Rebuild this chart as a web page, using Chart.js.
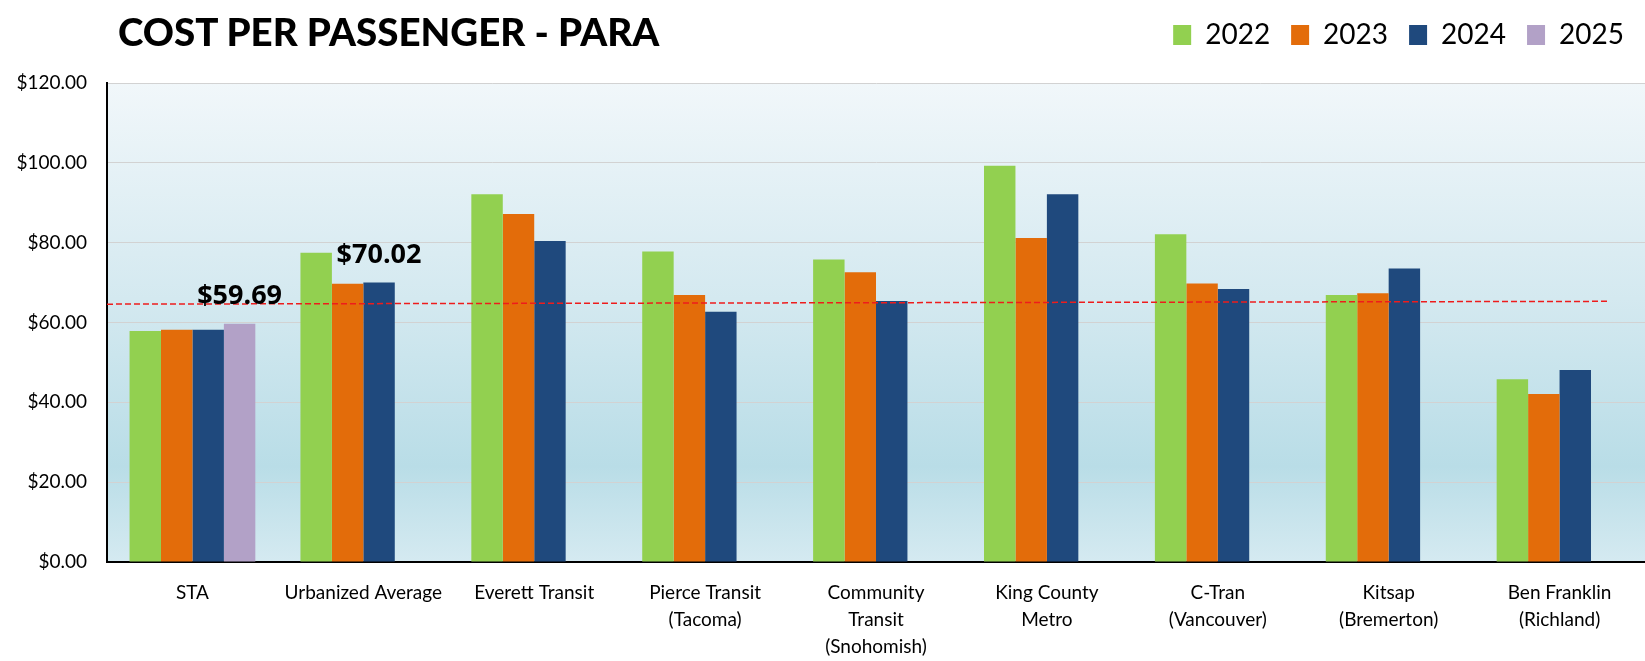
<!DOCTYPE html>
<html>
<head>
<meta charset="utf-8">
<script src="https://cdn.jsdelivr.net/npm/chart.js@4.4.1/dist/chart.umd.min.js"></script>
<style>
  html, body { margin: 0; padding: 0; background: #fff; }
  #wrap { position: relative; width: 1645px; height: 661px; }
  #title {
    position: absolute; left: 118px; top: 8px;
    font-family: "Lato", sans-serif; font-weight: 900; font-size: 38.5px;
    color: #000; white-space: nowrap;
  }
</style>
</head>
<body>
<div id="wrap">
  <canvas id="chart" width="1645" height="661"></canvas>
  <div id="title">COST PER PASSENGER - PARA</div>
</div>
<script>
const categories = [
  "STA",
  "Urbanized Average",
  "Everett Transit",
  ["Pierce Transit", "(Tacoma)"],
  ["Community", "Transit", "(Snohomish)"],
  ["King County", "Metro"],
  ["C-Tran", "(Vancouver)"],
  ["Kitsap", "(Bremerton)"],
  ["Ben Franklin", "(Richland)"]
];
const years = ["2022", "2023", "2024", "2025"];
const v2022 = [57.9, 77.5, 92.1, 77.8, 75.8, 99.3, 82.1, 66.9, 45.8];
const v2023 = [58.2, 69.7, 87.2, 66.9, 72.6, 81.2, 69.8, 67.3, 42.1];
const v2024 = [58.2, 70.02, 80.4, 62.7, 65.4, 92.1, 68.4, 73.5, 48.1];
const v2025 = [59.69, null, null, null, null, null, null, null, null];
const yTicks = [0, 20, 40, 60, 80, 100, 120];
// dashed average line (start value, end value)
const avgLine = [64.6, 65.3];
// which bars get a value label: [dataset, index]
const labelled = [[3, 0], [2, 1]];

const colors = ["#92d050", "#e36c0a", "#1f497d", "#b2a1c7"];

// plot background gradient
const bgPlugin = {
  id: "bg",
  beforeDraw(chart) {
    const { ctx, chartArea: a } = chart;
    const g = ctx.createLinearGradient(0, a.top, 0, a.bottom);
    g.addColorStop(0, "#f1f7fa");
    g.addColorStop(0.45, "#d4e9f0");
    g.addColorStop(0.8, "#b9dde7");
    g.addColorStop(1, "#d5eaf1");
    ctx.save();
    ctx.fillStyle = g;
    ctx.fillRect(a.left, a.top, a.right - a.left, a.bottom - a.top);
    ctx.restore();
  }
};

// red dashed line + value labels
const extrasPlugin = {
  id: "extras",
  afterDatasetsDraw(chart) {
    const { ctx } = chart;
    const x = chart.scales.x, y = chart.scales.y;
    ctx.save();
    ctx.strokeStyle = "#ee1c1c";
    ctx.lineWidth = 1.5;
    ctx.setLineDash([6, 3]);
    ctx.beginPath();
    ctx.moveTo(x.getPixelForValue(-0.5), y.getPixelForValue(avgLine[0]));
    ctx.lineTo(x.getPixelForValue(8.28), y.getPixelForValue(avgLine[1]));
    ctx.stroke();
    ctx.setLineDash([]);

    ctx.font = "bold 27px 'Open Sans', sans-serif";
    ctx.fillStyle = "#000";
    ctx.textAlign = "center";
    ctx.textBaseline = "bottom";
    labelled.forEach(([d, i]) => {
      const bar = chart.getDatasetMeta(d).data[i];
      const val = chart.data.datasets[d].data[i];
      ctx.fillText("$" + val.toFixed(2), bar.x, bar.y - 14);
    });
    ctx.restore();
  }
};

// extra room under the legend
const legendSpace = {
  id: "legendSpace",
  beforeInit(chart) {
    const fit = chart.legend.fit;
    chart.legend.fit = function () {
      fit.bind(chart.legend)();
      this.height += 24;
    };
  }
};

const series = [v2022, v2023, v2024, v2025];

new Chart(document.getElementById("chart"), {
  type: "bar",
  data: {
    labels: categories,
    datasets: series.map((d, i) => ({
      label: years[i],
      data: d,
      backgroundColor: colors[i],
      borderWidth: 0,
      barPercentage: 1,
      categoryPercentage: 0.736
    }))
  },
  options: {
    responsive: false,
    animation: false,
    layout: { padding: { top: 0, right: 0, bottom: 0, left: 0 } },
    plugins: {
      legend: {
        position: "top",
        align: "end",
        labels: {
          boxWidth: 18,
          boxHeight: 20,
          padding: 21,
          color: "#000",
          font: { family: "Lato", size: 28 }
        }
      },
      tooltip: { enabled: false }
    },
    scales: {
      x: {
        grid: { display: false, drawTicks: false },
        border: { display: true, color: "#000", width: 2 },
        ticks: {
          color: "#000",
          padding: 18,
          maxRotation: 0,
          autoSkip: false,
          font: { family: "Lato", size: 19, lineHeight: 1.4 }
        },
        afterFit(s) { s.height = 99; }
      },
      y: {
        min: 0,
        max: 120,
        grid: { color: "#d2d2d2", lineWidth: 1, drawTicks: false },
        border: { display: true, color: "#000", width: 2 },
        afterBuildTicks(s) { s.ticks = yTicks.map(v => ({ value: v })); },
        ticks: {
          color: "#000",
          padding: 20,
          font: { family: "Lato", size: 19 },
          callback: v => "$" + Number(v).toFixed(2)
        },
        afterFit(s) { s.width = 107; }
      }
    }
  },
  plugins: [bgPlugin, extrasPlugin, legendSpace]
});
</script>
</body>
</html>
